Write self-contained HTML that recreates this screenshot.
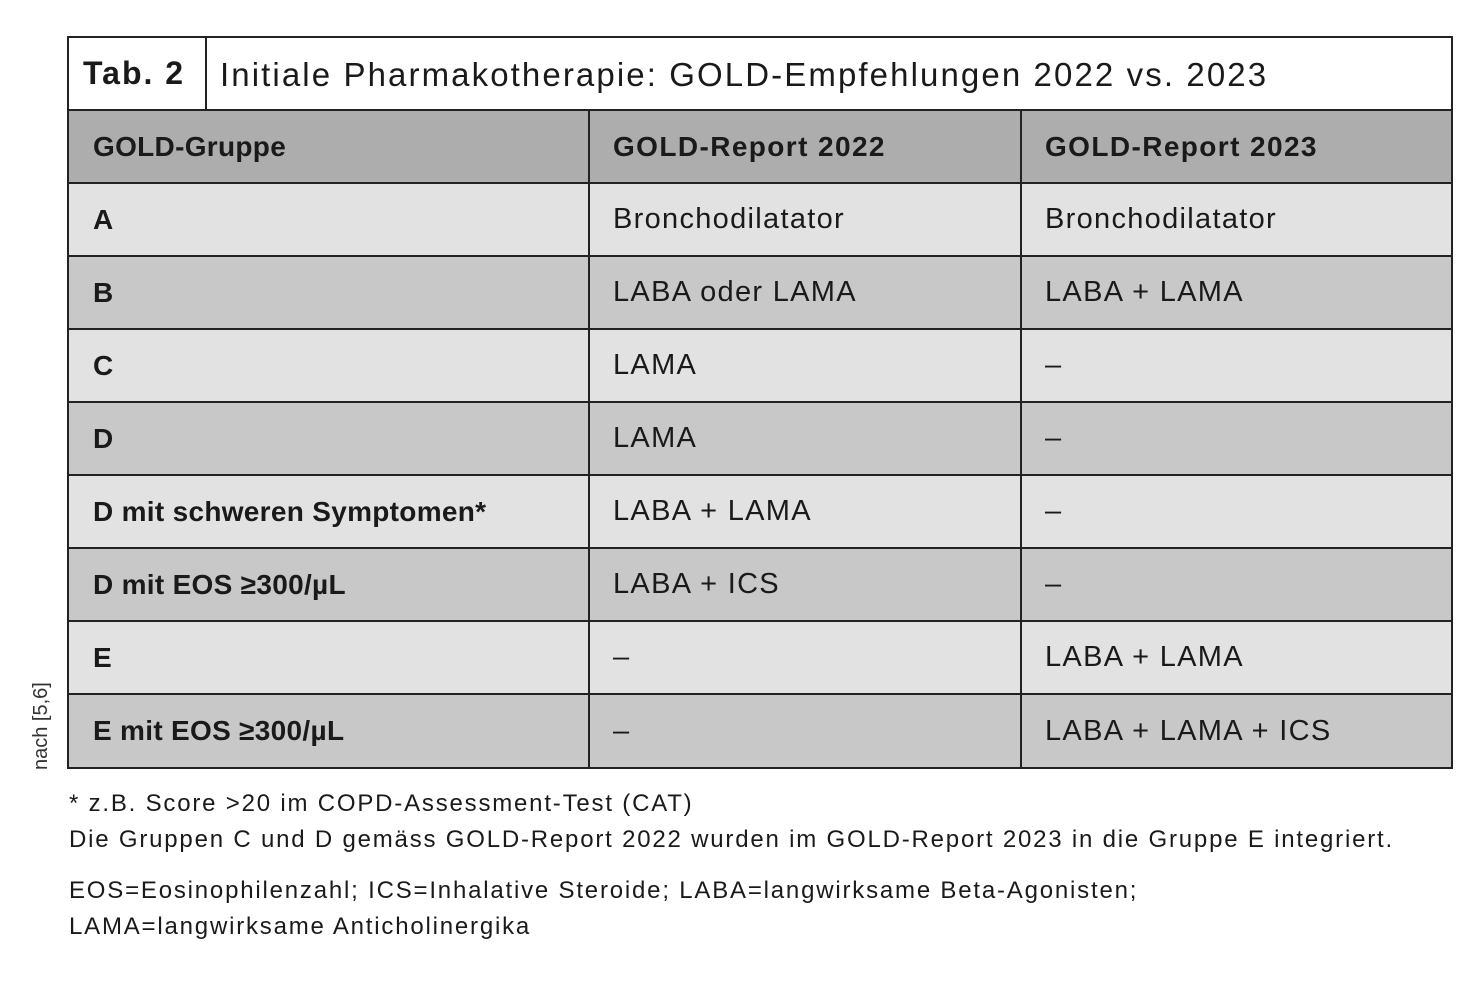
<!DOCTYPE html>
<html><head><meta charset="utf-8"><style>
body{margin:0;width:1473px;height:985px;background:#fff;font-family:"Liberation Sans",sans-serif;color:#1a1a1a;position:relative;overflow:hidden}
.t{position:absolute;left:67px;top:36px;width:1386px;height:733px;border:2px solid #222;box-sizing:border-box}
.title{position:absolute;left:0;top:0;width:100%;height:73px;border-bottom:2px solid #222;box-sizing:border-box;background:#fff}
.tab{position:absolute;left:14px;top:17px;font-weight:bold;font-size:32px;letter-spacing:2px}
.div{position:absolute;left:136px;top:0;width:2px;height:73px;background:#222}
.ttl{position:absolute;left:151px;top:18px;font-size:33px;letter-spacing:2.1px}
.row{position:absolute;left:0;width:100%;height:73px;border-bottom:2px solid #222;box-sizing:border-box}
.c{position:absolute;top:0;height:100%;display:flex;align-items:center;font-size:29px;letter-spacing:1.3px;white-space:pre}
.c1{left:24px;font-weight:bold;font-size:28px;letter-spacing:0.3px}
.c2{left:544px}.c3{left:976px}
.b{font-weight:bold;font-size:28px;letter-spacing:1.4px}
.v{position:absolute;top:73px;width:2px;height:656px;background:#222}
.fn{position:absolute;left:69px;font-size:24px;letter-spacing:1.8px;white-space:pre}
</style></head><body>
<div class="t">
<div class="title"><span class="tab">Tab. 2</span><div class="div"></div><span class="ttl">Initiale Pharmakotherapie: GOLD-Empfehlungen 2022 vs. 2023</span></div>
<div class="row" style="top:73px;background:#adadad"><span class="c c1">GOLD-Gruppe</span><span class="c c2 b">GOLD-Report 2022</span><span class="c c3 b">GOLD-Report 2023</span></div>
<div class="row" style="top:146px;background:#e2e2e2"><span class="c c1">A</span><span class="c c2">Bronchodilatator</span><span class="c c3">Bronchodilatator</span></div>
<div class="row" style="top:219px;background:#c8c8c8"><span class="c c1">B</span><span class="c c2">LABA oder LAMA</span><span class="c c3">LABA + LAMA</span></div>
<div class="row" style="top:292px;background:#e2e2e2"><span class="c c1">C</span><span class="c c2">LAMA</span><span class="c c3">–</span></div>
<div class="row" style="top:365px;background:#c8c8c8"><span class="c c1">D</span><span class="c c2">LAMA</span><span class="c c3">–</span></div>
<div class="row" style="top:438px;background:#e2e2e2"><span class="c c1">D mit schweren Symptomen*</span><span class="c c2">LABA + LAMA</span><span class="c c3">–</span></div>
<div class="row" style="top:511px;background:#c8c8c8"><span class="c c1">D mit EOS ≥300/µL</span><span class="c c2">LABA + ICS</span><span class="c c3">–</span></div>
<div class="row" style="top:584px;background:#e2e2e2"><span class="c c1">E</span><span class="c c2">–</span><span class="c c3">LABA + LAMA</span></div>
<div class="row" style="top:657px;height:72px;border-bottom:none;background:#c8c8c8"><span class="c c1">E mit EOS ≥300/µL</span><span class="c c2">–</span><span class="c c3">LABA + LAMA + ICS</span></div>
<div class="v" style="left:519px"></div><div class="v" style="left:951px"></div>
</div>
<div style="position:absolute;left:30px;top:770px;transform:rotate(-90deg);transform-origin:0 0;font-size:20px;color:#333">nach [5,6]</div>
<div class="fn" style="top:790px">* z.B. Score &gt;20 im COPD-Assessment-Test (CAT)</div>
<div class="fn" style="top:826px">Die Gruppen C und D gemäss GOLD-Report 2022 wurden im GOLD-Report 2023 in die Gruppe E integriert.</div>
<div class="fn" style="top:877px">EOS=Eosinophilenzahl; ICS=Inhalative Steroide; LABA=langwirksame Beta-Agonisten;</div>
<div class="fn" style="top:913px">LAMA=langwirksame Anticholinergika</div>
</body></html>
